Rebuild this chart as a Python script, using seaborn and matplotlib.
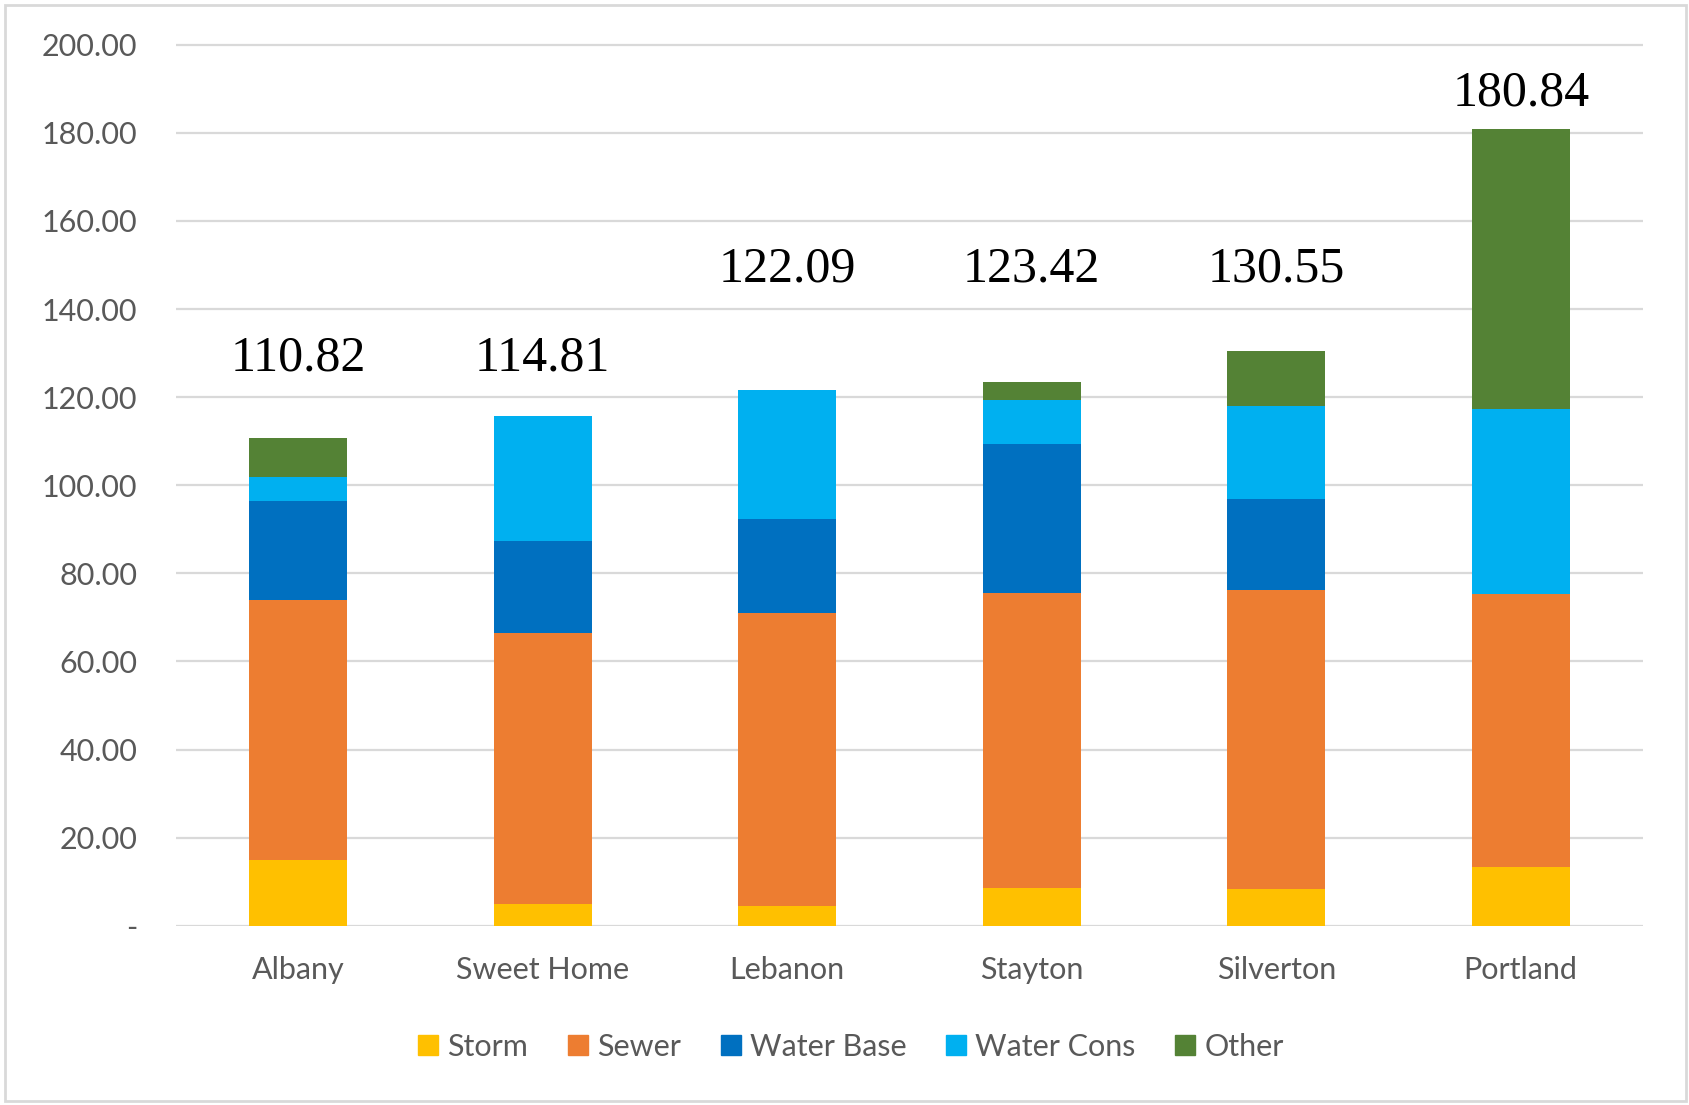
import matplotlib
matplotlib.use("Agg")
import matplotlib.pyplot as plt
import matplotlib.patches as mpatches
import seaborn as sns
import numpy as np
import pandas as pd

cities = ["Albany", "Sweet Home", "Lebanon", "Stayton", "Silverton", "Portland"]
series_names = ["Storm", "Sewer", "Water Base", "Water Cons", "Other"]
storm = [14.85, 4.9, 4.5, 8.6, 8.3, 13.3]
sewer = [59.05, 61.5, 66.5, 67.0, 67.8, 61.9]
water_base = [22.5, 20.9, 21.3, 33.8, 20.8, 0.0]
water_cons = [5.4, 28.3, 29.3, 10.0, 21.1, 42.0]
other = [9.0, 0.0, 0.0, 4.0, 12.55, 63.6]
total_labels = ["110.82", "114.81", "122.09", "123.42", "130.55", "180.84"]
label_y = [128.8, 128.8, 149.0, 149.0, 149.0, 189.0]
yticks = [0, 20, 40, 60, 80, 100, 120, 140, 160, 180, 200]

colors = ["#FFC000", "#ED7D31", "#0070C0", "#00B0F0", "#548235"]

sns.set_style("white")
plt.rcParams["font.family"] = ["Lato", "DejaVu Sans"]

fig = plt.figure(figsize=(16.89, 11.05), dpi=100)
ax = fig.add_axes([176/1689, 1-925.7/1105, (1643-176)/1689, (925.7-40.3)/1105])

layers = [storm, sewer, water_base, water_cons, other]
cum = np.cumsum(np.array(layers), axis=0)
df = pd.DataFrame({"city": cities})
for i in range(len(layers) - 1, -1, -1):
    df["val"] = cum[i]
    sns.barplot(data=df, x="city", y="val", color=colors[i], saturation=1,
                width=0.4, ax=ax, zorder=3, linewidth=0)

ax.set_ylim(0, 201)
ax.set_xlim(-0.5, 5.5)
ax.set_yticks(yticks)
ax.set_yticklabels(["-" if v == 0 else f"{v:.2f}" for v in yticks])
ax.yaxis.grid(True, color="#d9d9d9", linewidth=1.6, zorder=0)
ax.set_axisbelow(True)
for s in ax.spines.values():
    s.set_visible(False)
ax.tick_params(axis="y", length=0, pad=28, labelsize=22, labelcolor="#595959")
ax.tick_params(axis="x", length=0, pad=22, labelsize=22, labelcolor="#595959")
ax.set_xlabel("")
ax.set_ylabel("")

for i, (lab, ly) in enumerate(zip(total_labels, label_y)):
    ax.text(i, ly, lab, ha="center", va="center", fontsize=36,
            family=["Liberation Serif"], color="black")

handles = [mpatches.Patch(color=c, label=n) for c, n in zip(colors, series_names)]
fig.legend(handles=handles, loc="center", bbox_to_anchor=(851/1689, 1-1047/1105),
           ncol=5, frameon=False, fontsize=22, handlelength=0.65, handleheight=0.65,
           handletextpad=0.3, columnspacing=1.3, labelcolor="#595959")

fig.patches.append(mpatches.Rectangle((5/1689, 4/1105), 1681/1689, 1096/1105,
                                      transform=fig.transFigure, fill=False,
                                      edgecolor="#d9d9d9", linewidth=2))

fig.savefig("out.png", dpi=100)
